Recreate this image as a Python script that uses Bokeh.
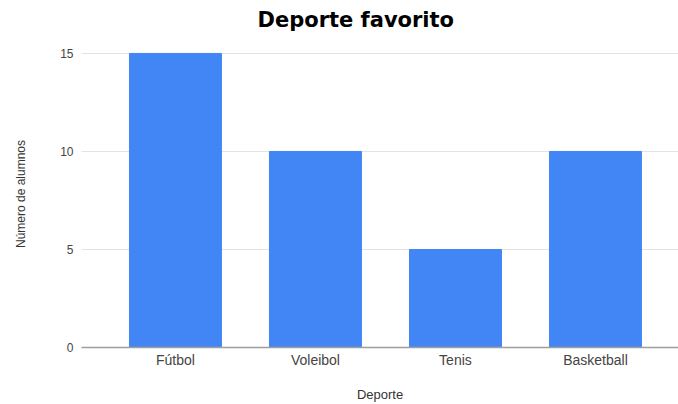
from bokeh.plotting import figure
from bokeh.models import Range1d, FixedTicker, Title
from bokeh.embed import file_html
from bokeh.resources import INLINE

categories = ["Fútbol", "Voleibol", "Tenis", "Basketball"]
values = [15, 10, 5, 10]
y_ticks = [0, 5, 10, 15]
title_text = "Deporte favorito"

FONT = "Liberation Sans"
xs = list(range(len(categories)))

p = figure(width=678, height=404, output_backend="svg", toolbar_location=None,
           x_range=Range1d(-0.671, 3.593), y_range=Range1d(0, 15.66),
           min_border_left=81, min_border_right=0, min_border_top=0, min_border_bottom=57)
p.title = None
t = Title(text=title_text, align="left", offset=176, standoff=14, vertical_align="top",
          text_font="DejaVu Sans", text_font_size="21px",
          text_font_style="bold", text_color="#000000")
p.add_layout(t, "above")

p.vbar(x=xs, top=values, width=0.657, bottom=0, fill_color="#4285F4", line_color="#4285F4")

p.outline_line_color = None
p.xgrid.grid_line_color = None
p.ygrid.grid_line_color = "#e3e3e3"
p.ygrid.ticker = FixedTicker(ticks=y_ticks)

p.yaxis.ticker = FixedTicker(ticks=y_ticks)
p.yaxis.axis_line_color = None
p.yaxis.major_tick_line_color = None
p.yaxis.minor_tick_line_color = None
p.yaxis.major_tick_out = 0
p.yaxis.major_tick_in = 0
p.yaxis.minor_tick_out = 0
p.yaxis.major_label_text_font = FONT
p.yaxis.major_label_text_font_size = "12px"
p.yaxis.major_label_text_color = "#444444"
p.yaxis.major_label_standoff = 8
p.yaxis.axis_label = "Número de alumnos"
p.yaxis.axis_label_text_font = FONT
p.yaxis.axis_label_text_font_size = "12px"
p.yaxis.axis_label_text_font_style = "normal"
p.yaxis.axis_label_text_color = "#333333"
p.yaxis.axis_label_standoff = 29

p.xaxis.ticker = FixedTicker(ticks=xs)
p.xaxis.major_label_overrides = {i: c for i, c in zip(xs, categories)}
p.xaxis.axis_line_color = "#9e9e9e"
p.xaxis.axis_line_width = 1.5
p.xaxis.major_tick_line_color = None
p.xaxis.minor_tick_line_color = None
p.xaxis.major_tick_out = 0
p.xaxis.major_tick_in = 0
p.xaxis.minor_tick_out = 0
p.xaxis.major_label_text_font = FONT
p.xaxis.major_label_text_font_size = "14px"
p.xaxis.major_label_text_color = "#444444"
p.xaxis.major_label_standoff = 4
p.xaxis.axis_label = "Deporte"
p.xaxis.axis_label_text_font = FONT
p.xaxis.axis_label_text_font_size = "13px"
p.xaxis.axis_label_text_font_style = "normal"
p.xaxis.axis_label_text_color = "#333333"
p.xaxis.axis_label_standoff = 16

open("out.html", "w").write(file_html(p, INLINE))
